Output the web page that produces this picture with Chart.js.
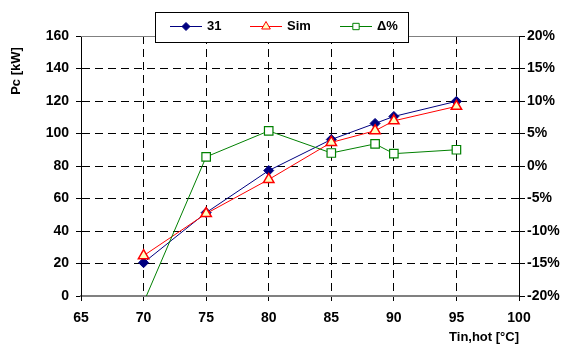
<!DOCTYPE html>
<html>
<head>
<meta charset="utf-8">
<script src="https://cdn.jsdelivr.net/npm/chart.js@4.4.1/dist/chart.umd.min.js"></script>
<style>
  html, body { margin: 0; padding: 0; background: #fff; }
  #wrap { width: 566px; height: 345px; }
</style>
</head>
<body>
<div id="wrap"><canvas id="c" width="566" height="345"></canvas></div>
<script>
// data
const tinHot = [70, 75, 80, 85, 88.5, 90, 95];
const pc31 = [20.5, 51.3, 77.2, 96.3, 106.2, 110.5, 119.8];
const pcSim = [24.8, 50.7, 71.7, 94.5, 101.7, 107.8, 116.7];
const deltaPct = [-21, 1.4, 5.4, 2.0, 3.4, 1.9, 2.5];

const xTicks = [65, 70, 75, 80, 85, 90, 95, 100];
const pcTicks = [0, 20, 40, 60, 80, 100, 120, 140, 160];
const pctTicks = [-20, -15, -10, -5, 0, 5, 10, 15, 20];

const FONT = "'Liberation Sans', Arial, sans-serif";

function toPoints(ys) {
    return tinHot.map((x, i) => ({ x: x, y: ys[i] }));
}

// legend box overlapping the top of the plot + the rotated y title + grey top edge
const boxLegend = {
    id: 'boxLegend',
    afterDraw(chart) {
        const ctx = chart.ctx;
        const area = chart.chartArea;
        ctx.save();

        // top edge of the plot is a plain grey line
        ctx.strokeStyle = '#808080';
        ctx.lineWidth = 1;
        ctx.beginPath();
        ctx.moveTo(area.left, Math.round(area.top) + 0.5);
        ctx.lineTo(area.right, Math.round(area.top) + 0.5);
        ctx.stroke();

        // y title
        ctx.save();
        ctx.translate(16, 71);
        ctx.rotate(-Math.PI / 2);
        ctx.fillStyle = '#000';
        ctx.font = 'bold 13px ' + FONT;
        ctx.textAlign = 'center';
        ctx.textBaseline = 'middle';
        ctx.fillText('Pc [kW]', 0, 0);
        ctx.restore();

        const left = 155, top = 12, w = 253, h = 30;
        const cy = 26;
        const starts = [170, 250, 340];
        ctx.fillStyle = '#fff';
        ctx.fillRect(left, top, w, h);
        ctx.strokeStyle = '#000';
        ctx.lineWidth = 1;
        ctx.strokeRect(left + 0.5, top + 0.5, w, h);
        chart.data.datasets.forEach((ds, i) => {
            const x0 = starts[i];
            ctx.strokeStyle = ds.borderColor;
            ctx.lineWidth = 1;
            ctx.beginPath();
            ctx.moveTo(x0, cy + 0.5);
            ctx.lineTo(x0 + 32, cy + 0.5);
            ctx.stroke();
            ctx.fillStyle = ds.pointBackgroundColor;
            ctx.strokeStyle = ds.borderColor;
            Chart.helpers.drawPoint(ctx, {
                pointStyle: ds.pointStyle,
                radius: ds.legendRadius,
                rotation: 0,
                borderWidth: 1
            }, x0 + 16, cy + 0.5);
            ctx.fillStyle = '#000';
            ctx.font = 'bold 13px ' + FONT;
            ctx.textBaseline = 'middle';
            ctx.textAlign = 'left';
            ctx.fillText(ds.label, x0 + 37, cy);
        });
        ctx.restore();
    }
};

const tickFont = { family: FONT, size: 14, weight: 'bold' };

new Chart(document.getElementById('c'), {
    type: 'line',
    data: {
        datasets: [
            {
                label: '31',
                data: toPoints(pc31),
                yAxisID: 'y',
                borderColor: '#000080',
                borderWidth: 1,
                pointStyle: 'rectRot',
                pointRadius: 5,
                pointBackgroundColor: '#000080',
                pointBorderColor: '#000080',
                legendRadius: 4,
                order: 3
            },
            {
                label: 'Sim',
                data: toPoints(pcSim),
                yAxisID: 'y',
                borderColor: '#ff0000',
                borderWidth: 1,
                pointStyle: 'triangle',
                pointRadius: 6,
                pointBorderWidth: 1.5,
                pointBackgroundColor: '#ffffc0',
                pointBorderColor: '#ff0000',
                legendRadius: 5,
                order: 2
            },
            {
                label: 'Δ%',
                data: toPoints(deltaPct),
                yAxisID: 'y1',
                borderColor: '#008000',
                borderWidth: 1,
                pointStyle: 'rect',
                pointRadius: 6,
                pointBorderWidth: 1.2,
                pointBackgroundColor: '#ffffff',
                pointBorderColor: '#008000',
                legendRadius: 4.5,
                order: 1
            }
        ]
    },
    options: {
        responsive: false,
        animation: false,
        events: [],
        layout: { padding: { top: 36, left: 0, right: 0, bottom: 0 } },
        plugins: {
            legend: { display: false },
            tooltip: { enabled: false }
        },
        scales: {
            x: {
                type: 'linear',
                min: 65,
                max: 100,
                afterBuildTicks: (s) => { s.ticks = xTicks.map(v => ({ value: v })); },
                afterFit: (s) => { s.height = 49; },
                ticks: {
                    color: '#000',
                    padding: 9,
                    maxRotation: 0,
                    font: tickFont
                },
                grid: {
                    color: '#000',
                    lineWidth: 1,
                    tickLength: 5,
                    tickColor: '#000',
                    tickBorderDash: []
                },
                border: { display: true, color: '#808080', width: 2, dash: [8, 5] },
                title: {
                    display: true,
                    text: 'Tin,hot [°C]',
                    align: 'end',
                    color: '#000',
                    padding: { top: 0, bottom: 0 },
                    font: { family: FONT, size: 13, weight: 'bold' }
                }
            },
            y: {
                position: 'left',
                min: 0,
                max: 160,
                afterBuildTicks: (s) => { s.ticks = pcTicks.map(v => ({ value: v })); },
                afterFit: (s) => { s.width = 81; },
                ticks: {
                    color: '#000',
                    padding: 7,
                    font: tickFont
                },
                grid: {
                    color: '#000',
                    lineWidth: 1,
                    tickLength: 5,
                    tickColor: '#000',
                    tickBorderDash: []
                },
                border: { display: true, color: '#000', width: 1, dash: [8, 5] }
            },
            y1: {
                position: 'right',
                min: -20,
                max: 20,
                afterBuildTicks: (s) => { s.ticks = pctTicks.map(v => ({ value: v })); },
                afterFit: (s) => { s.width = 47; },
                ticks: {
                    color: '#000',
                    padding: 2,
                    callback: (v) => v + '%',
                    font: tickFont
                },
                grid: {
                    drawOnChartArea: false,
                    tickLength: 6,
                    tickColor: '#000'
                },
                border: { display: true, color: '#000', width: 1 }
            }
        }
    },
    plugins: [boxLegend]
});
</script>
</body>
</html>
